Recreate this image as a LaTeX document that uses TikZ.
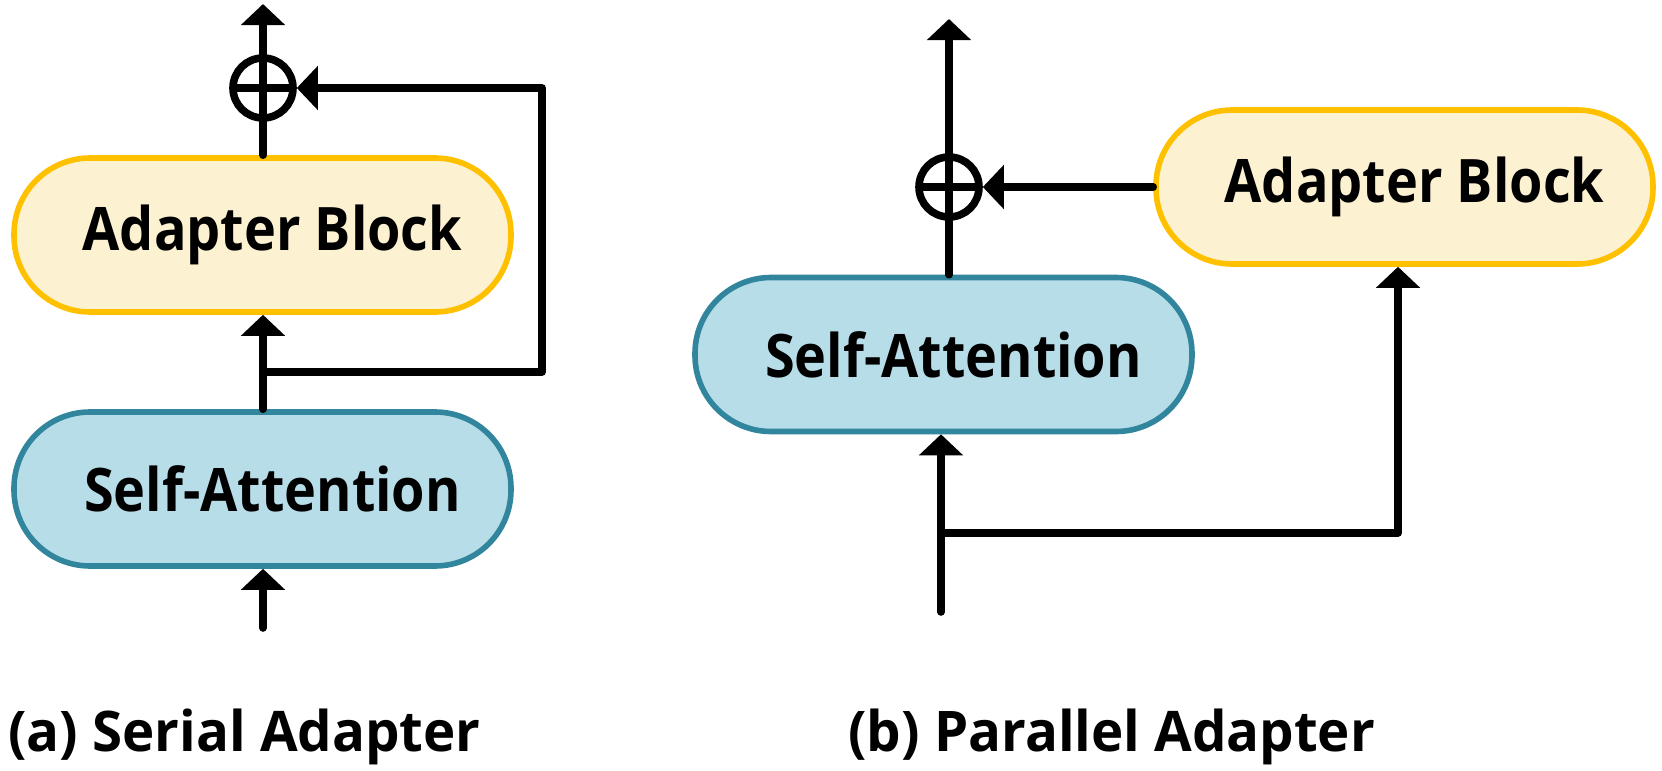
\documentclass[tikz,border=0pt]{standalone}
\usepackage{fontspec}
\setmainfont{Open Sans}
\usetikzlibrary{arrows.meta}
\definecolor{abfill}{HTML}{FCF1D0}
\definecolor{abdraw}{HTML}{FFC000}
\definecolor{safill}{HTML}{B7DDE8}
\definecolor{sadraw}{HTML}{31859C}
\newcommand{\boxtext}[1]{\hspace*{10pt}\scalebox{0.9}[1]{#1}}
\begin{document}
\begin{tikzpicture}[x=0.5pt,y=-0.5pt,
  box/.style={rectangle, rounded corners=38pt, minimum width=248.5pt, minimum height=77pt,
    line width=2.8pt, inner sep=0pt, font=\fontsize{30}{36}\selectfont\bfseries},
  adapterbox/.style={box, draw=abdraw, fill=abfill},
  attnbox/.style={box, draw=sadraw, fill=safill},
  conn/.style={line width=3.8pt, line cap=round, line join=round},
  arr/.style={conn, -{Triangle[width=21.5pt,length=10.5pt]}},
  sumnode/.style={circle, draw, line width=3.8pt, minimum size=30pt, inner sep=0pt,
    path picture={\draw[line width=3.8pt] (path picture bounding box.north) -- (path picture bounding box.south)
      (path picture bounding box.west) -- (path picture bounding box.east);}},
  caption/.style={font=\fontsize{28}{34}\selectfont\bfseries, anchor=base west, inner sep=0pt}]
\useasboundingbox (0,0) rectangle (1662,771);

% (a) Serial Adapter
\node[attnbox] (sa1) at (262.5,489) {\boxtext{Self-Attention}};
\node[adapterbox] (ab1) at (262.5,235) {\boxtext{Adapter Block}};
\node[sumnode] (sum1) at (263,88) {};
\coordinate (in1) at (263,628);
\coordinate (out1) at (263,4);
\coordinate (br1) at (263,372);
\coordinate (c1) at (542,372);
\draw[arr] (in1) -- (in1 |- sa1.south);
\draw[arr] (in1 |- sa1.north) -- (in1 |- ab1.south);
\draw[arr] (br1) -- (c1) -- (c1 |- sum1.east) -- (sum1.east);
\draw[conn] (in1 |- ab1.north) -- (sum1.south);
\draw[arr] (sum1.north) -- (out1);
\node[caption] (capa) at (8,751) {\scalebox{0.975}[1]{(a) Serial Adapter}};

% (b) Parallel Adapter
\node[attnbox] (sa2) at (943.5,354.5) {\boxtext{Self-Attention}};
\node[adapterbox] (ab2) at (1404.5,187) {\boxtext{Adapter Block}};
\node[sumnode] (sum2) at (949,187) {};
\coordinate (in2) at (941,612);
\coordinate (br2) at (941,533);
\coordinate (c3) at (1398,533);
\coordinate (out2) at (949,19);
\draw[arr] (in2) -- (in2 |- sa2.south);
\draw[arr] (br2) -- (c3) -- (c3 |- ab2.south);
\draw[conn] (sum2 |- sa2.north) -- (sum2.south);
\draw[arr] (ab2.west) -- (sum2.east);
\draw[arr] (sum2.north) -- (out2);
\node[caption] (capb) at (848,751) {\scalebox{0.975}[1]{(b) Parallel Adapter}};
\end{tikzpicture}
\end{document}
